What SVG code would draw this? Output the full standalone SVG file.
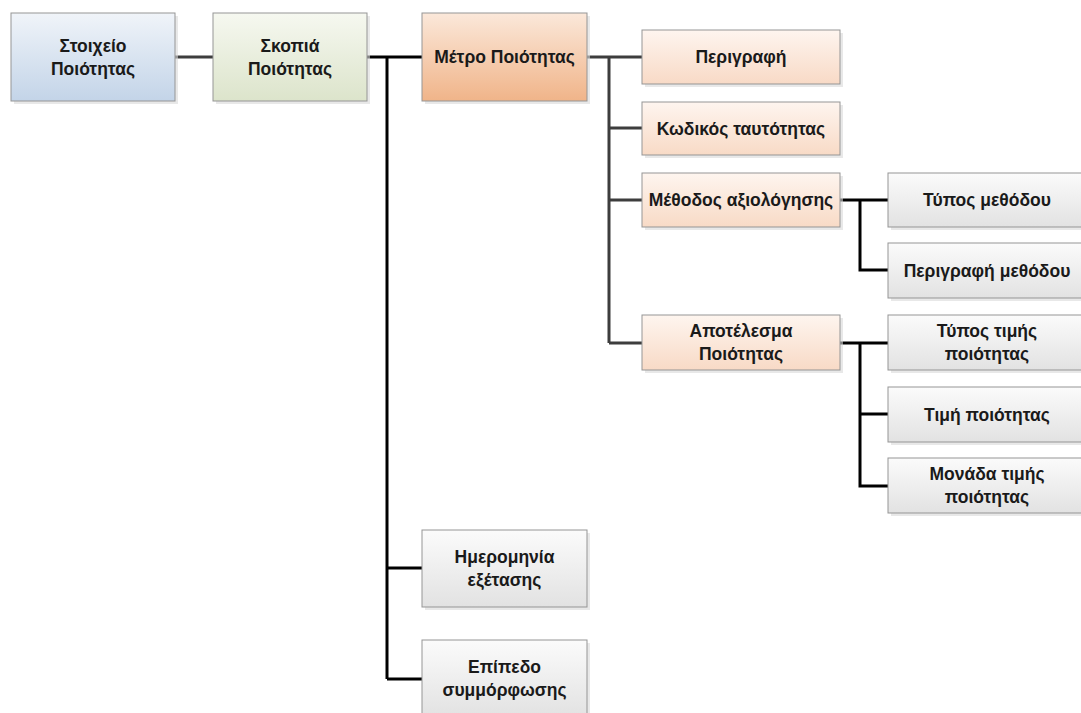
<svg xmlns="http://www.w3.org/2000/svg" width="1081" height="713" viewBox="0 0 1081 713">
  <defs>
    <linearGradient id="gBlue" x1="0" y1="0" x2="0" y2="1">
      <stop offset="0" stop-color="#f0f4f9"/>
      <stop offset="1" stop-color="#c3d4e8"/>
    </linearGradient>
    <linearGradient id="gGreen" x1="0" y1="0" x2="0" y2="1">
      <stop offset="0" stop-color="#f6f8f0"/>
      <stop offset="1" stop-color="#dce4cb"/>
    </linearGradient>
    <linearGradient id="gOrange" x1="0" y1="0" x2="0" y2="1">
      <stop offset="0" stop-color="#fbe8da"/>
      <stop offset="1" stop-color="#f0b489"/>
    </linearGradient>
    <linearGradient id="gPeach" x1="0" y1="0" x2="0" y2="1">
      <stop offset="0" stop-color="#fef5ef"/>
      <stop offset="1" stop-color="#f8dac6"/>
    </linearGradient>
    <linearGradient id="gGray" x1="0" y1="0" x2="0" y2="1">
      <stop offset="0" stop-color="#fbfbfb"/>
      <stop offset="1" stop-color="#e2e2e2"/>
    </linearGradient>
  </defs>
  <style>
    .box { stroke: #959595; stroke-width: 1; }
    .shadow { fill: #d9d9d9; opacity: 0.6; }
    .lbl { font-family: "Liberation Sans", Arial, sans-serif; font-size: 17.5px; font-weight: bold; fill: #1a1a1a; text-anchor: middle; }
    .wire { fill: none; stroke-width: 3; stroke-linejoin: miter; stroke-linecap: butt; }
    .dark { stroke: #3d3d3d; }
    .black { stroke: #000000; }
  </style>
  <rect width="1081" height="713" fill="#ffffff"/>

  <!-- connectors -->
  <g id="connectors">
    <path class="wire dark" d="M175 57 H213"/>
    <path class="wire black" d="M367 57 H422 M387 57 V679 M387 568 H422 M387 679 H422"/>
    <path class="wire dark" d="M587 57 H642 M609 57 V343 M609 128 H642 M609 200 H642 M609 343 H642"/>
    <path class="wire black" d="M840 200 H888 M860 200 V270 H888"/>
    <path class="wire black" d="M840 343 H888 M860 343 V486 H888 M860 414 H888"/>
  </g>

  <!-- root -->
  <g id="n-stoixeio">
    <rect class="shadow" x="14" y="16" width="164" height="88"/>
    <rect class="box" x="11" y="13" width="164" height="88" fill="url(#gBlue)"/>
    <text class="lbl" x="93" y="51.5">Στοιχείο</text>
    <text class="lbl" x="93" y="74.5">Ποιότητας</text>
  </g>

  <g id="n-skopia">
    <rect class="shadow" x="216" y="16" width="154" height="88"/>
    <rect class="box" x="213" y="13" width="154" height="88" fill="url(#gGreen)"/>
    <text class="lbl" x="290" y="51.5">Σκοπιά</text>
    <text class="lbl" x="290" y="74.5">Ποιότητας</text>
  </g>

  <g id="n-metro">
    <rect class="shadow" x="425" y="16" width="165" height="88"/>
    <rect class="box" x="422" y="13" width="165" height="88" fill="url(#gOrange)"/>
    <text class="lbl" x="504.5" y="63">Μέτρο Ποιότητας</text>
  </g>

  <g id="n-perigrafi">
    <rect class="shadow" x="645" y="33" width="198" height="54"/>
    <rect class="box" x="642" y="30" width="198" height="54" fill="url(#gPeach)"/>
    <text class="lbl" x="741" y="63">Περιγραφή</text>
  </g>

  <g id="n-kodikos">
    <rect class="shadow" x="645" y="105" width="198" height="53"/>
    <rect class="box" x="642" y="102" width="198" height="53" fill="url(#gPeach)"/>
    <text class="lbl" x="741" y="134.5">Κωδικός ταυτότητας</text>
  </g>

  <g id="n-methodos">
    <rect class="shadow" x="645" y="176" width="198" height="54"/>
    <rect class="box" x="642" y="173" width="198" height="54" fill="url(#gPeach)"/>
    <text class="lbl" x="741" y="206">Μέθοδος αξιολόγησης</text>
  </g>

  <g id="n-apotelesma">
    <rect class="shadow" x="645" y="318" width="198" height="55"/>
    <rect class="box" x="642" y="315" width="198" height="55" fill="url(#gPeach)"/>
    <text class="lbl" x="741" y="337">Αποτέλεσμα</text>
    <text class="lbl" x="741" y="360">Ποιότητας</text>
  </g>

  <g id="n-typos-methodou">
    <rect class="shadow" x="891" y="176" width="198" height="54"/>
    <rect class="box" x="888" y="173" width="198" height="54" fill="url(#gGray)"/>
    <text class="lbl" x="987" y="206">Τύπος μεθόδου</text>
  </g>

  <g id="n-perigrafi-methodou">
    <rect class="shadow" x="891" y="246" width="198" height="55"/>
    <rect class="box" x="888" y="243" width="198" height="55" fill="url(#gGray)"/>
    <text class="lbl" x="987" y="276.5">Περιγραφή μεθόδου</text>
  </g>

  <g id="n-typos-timis">
    <rect class="shadow" x="891" y="318" width="198" height="55"/>
    <rect class="box" x="888" y="315" width="198" height="55" fill="url(#gGray)"/>
    <text class="lbl" x="987" y="337">Τύπος τιμής</text>
    <text class="lbl" x="987" y="360">ποιότητας</text>
  </g>

  <g id="n-timi">
    <rect class="shadow" x="891" y="390" width="198" height="55"/>
    <rect class="box" x="888" y="387" width="198" height="55" fill="url(#gGray)"/>
    <text class="lbl" x="987" y="420.5">Τιμή ποιότητας</text>
  </g>

  <g id="n-monada">
    <rect class="shadow" x="891" y="461" width="198" height="55"/>
    <rect class="box" x="888" y="458" width="198" height="55" fill="url(#gGray)"/>
    <text class="lbl" x="987" y="480">Μονάδα τιμής</text>
    <text class="lbl" x="987" y="503">ποιότητας</text>
  </g>

  <g id="n-imerominia">
    <rect class="shadow" x="425" y="533" width="165" height="77"/>
    <rect class="box" x="422" y="530" width="165" height="77" fill="url(#gGray)"/>
    <text class="lbl" x="504.5" y="563">Ημερομηνία</text>
    <text class="lbl" x="504.5" y="586">εξέτασης</text>
  </g>

  <g id="n-epipedo">
    <rect class="shadow" x="425" y="643" width="165" height="77"/>
    <rect class="box" x="422" y="640" width="165" height="77" fill="url(#gGray)"/>
    <text class="lbl" x="504.5" y="673">Επίπεδο</text>
    <text class="lbl" x="504.5" y="696">συμμόρφωσης</text>
  </g>
</svg>
